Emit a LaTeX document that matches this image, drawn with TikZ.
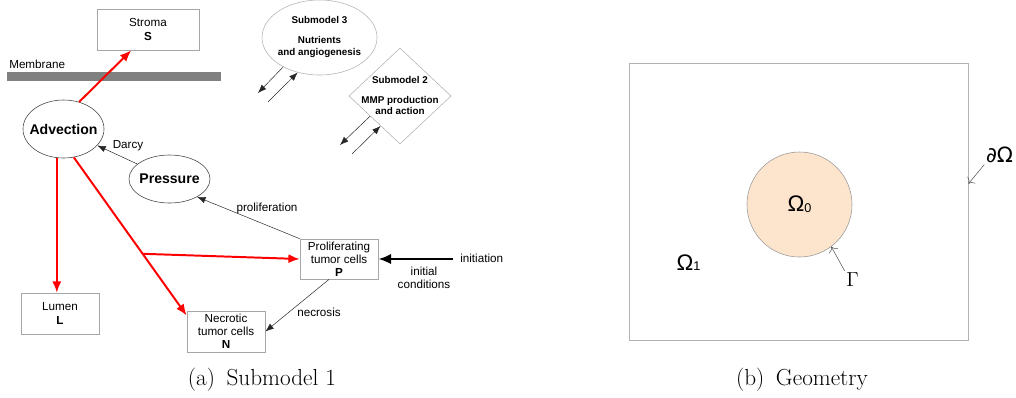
\documentclass[tikz,border=0pt]{standalone}
\usepackage{fontspec}
\newfontfamily\arial{Liberation Sans}
\newfontfamily\dejavu{DejaVu Sans}
\usetikzlibrary{shapes.geometric, arrows.meta, calc}

\definecolor{peach}{HTML}{FDE4CC}
\newcommand\omegasub[1]{Ω\raisebox{-0.5pt}{\fontsize{9}{10}\selectfont #1}}

\tikzset{
    txt/.style={font=\arial\fontsize{8.3}{9.3}\selectfont, align=center, inner sep=0pt},
    box/.style={txt, draw=black!35, line width=0.5pt, minimum width=1.95cm, minimum height=1.025cm},
    bubble/.style={ellipse, draw=black!75, line width=0.4pt, inner sep=0pt, minimum width=2.025cm},
    bigtxt/.style={font=\arial\bfseries\fontsize{10}{12}\selectfont, inner sep=0pt},
    subtxt/.style={font=\arial\bfseries\fontsize{7}{8.3}\selectfont, align=center, inner sep=0pt},
    geotxt/.style={font=\arial\fontsize{16}{18}\selectfont, inner sep=1pt},
    captxt/.style={font=\fontsize{16.5}{19}\selectfont, inner sep=0pt},
    thinarrow/.style={-{Latex[length=6pt,width=4.5pt]}, line width=0.35pt, black!85},
    redarrow/.style={-{Latex[length=8pt,width=6.5pt]}, line width=1.4pt, red},
    openarrow/.style={-{To[length=3.5pt]}, line width=0.35pt, black!70},
}

\begin{document}
\begin{tikzpicture}[x=0.025cm, y=-0.025cm]
    \useasboundingbox (0,0) rectangle (1016,397);

    % (a) submodel 1
    \fill[black!50] (7,72) rectangle (221,81);
    \node[txt, anchor=west] (membrane) at (9,64) {Membrane};
    \node[box, minimum width=2.55cm] (stroma) at (148,29.5) {Stroma\\\textbf{S}};
    \node[box] (lumen) at (60,313.5) {Lumen\\\textbf{L}};
    \node[box, minimum height=1cm] (prolif) at (339,259) {Proliferating\\tumor cells\\\textbf{P}};
    \node[box] (necro) at (226,331.5) {Necrotic\\tumor cells\\\textbf{N}};

    \node[bubble, minimum height=1.45cm] (adv) at (63.5,129) {};
    \node[bigtxt] (advtxt) at (adv) {Advection};
    \node[bubble, minimum height=1.2cm] (press) at (169.5,179) {};
    \node[bigtxt] (presstxt) at (press) {Pressure};

    \node[ellipse, draw=black!30, line width=0.4pt, minimum width=2.875cm, minimum height=1.875cm, inner sep=0pt] (sm3) at (319.5,37.5) {};
    \node[subtxt] (sm3txt) at (319.5,37) {Submodel 3\\[6pt]Nutrients\\and angiogenesis};
    \node[diamond, draw=black!30, line width=0.4pt, minimum width=2.55cm, minimum height=2.4cm, inner sep=0pt] (sm2) at (400,96) {};
    \node[subtxt] (sm2txt) at (400,95.5) {Submodel 2\\[6pt]MMP production\\and action};

    \draw[redarrow] (adv.60) -- ([xshift=-0.42cm]stroma.south);
    \draw[redarrow] (adv.257) -- (adv.257 |- lumen.north);
    \draw[redarrow] (adv.290) -- ([yshift=-0.12cm]necro.north west);
    \coordinate (split) at ($(adv.290)!0.61!([yshift=-0.12cm]necro.north west)$);
    \draw[redarrow] (split) -- (prolif.west);

    \draw[thinarrow] (press.155) -- (adv.334);
    \node[txt] (darcy) at (128,146) {Darcy};
    \draw[thinarrow] (prolif.north west) -- (press.327);
    \node[txt] (lprolif) at (267,208) {proliferation};
    \draw[thinarrow] ([xshift=-0.25cm]prolif.south) -- (necro.east);
    \node[txt] (lnecro) at (319,312) {necrosis};

    \coordinate (init) at (453,259);
    \draw[-{Latex[length=9pt,width=7.5pt]}, line width=2pt] (init) -- (prolif.east);
    \node[txt, anchor=west] (linit) at (460,258) {initiation};
    \node[txt] (lcond) at (424,277.5) {initial\\conditions};

    \coordinate (sm3out) at (258,93);
    \coordinate (sm3in) at (268,102);
    \draw[thinarrow] (sm3.219) -- (sm3out);
    \draw[thinarrow] (sm3in) -- (sm3.238);
    \coordinate (sm2out) at (340,145);
    \coordinate (sm2in) at (352,154);
    \draw[thinarrow] (sm2.214) -- (sm2out);
    \draw[thinarrow] (sm2in) -- (sm2.237);

    \node[captxt] (capa) at (262,380) {(a)\hspace{0.5em}Submodel 1};

    % (b) geometry
    \node[draw=black!30, line width=0.6pt, minimum width=8.475cm, minimum height=6.925cm, inner sep=0pt] (dom) at (798.5,201.5) {};
    \node[circle, draw=black!40, fill=peach, line width=0.4pt, minimum size=2.625cm, inner sep=0pt, geotxt] (omega0) at (799.5,204.5) {\omegasub{0}};
    \node[geotxt] (omega1) at (688.5,262.5) {\omegasub{1}};
    \node[font=\fontsize{15}{18}\selectfont, inner sep=1pt] (gam) at (852.5,279.5) {$\Gamma$};
    \draw[openarrow] (gam.north west) -- (omega0.307);
    \node[geotxt, font=\dejavu\fontsize{15}{18}\selectfont] (bdry) at (999.5,155) {∂Ω};
    \draw[openarrow] (bdry.south west) -- (dom.6);

    \node[captxt] (capb) at (802,380) {(b)\hspace{0.5em}Geometry};
\end{tikzpicture}
\end{document}
